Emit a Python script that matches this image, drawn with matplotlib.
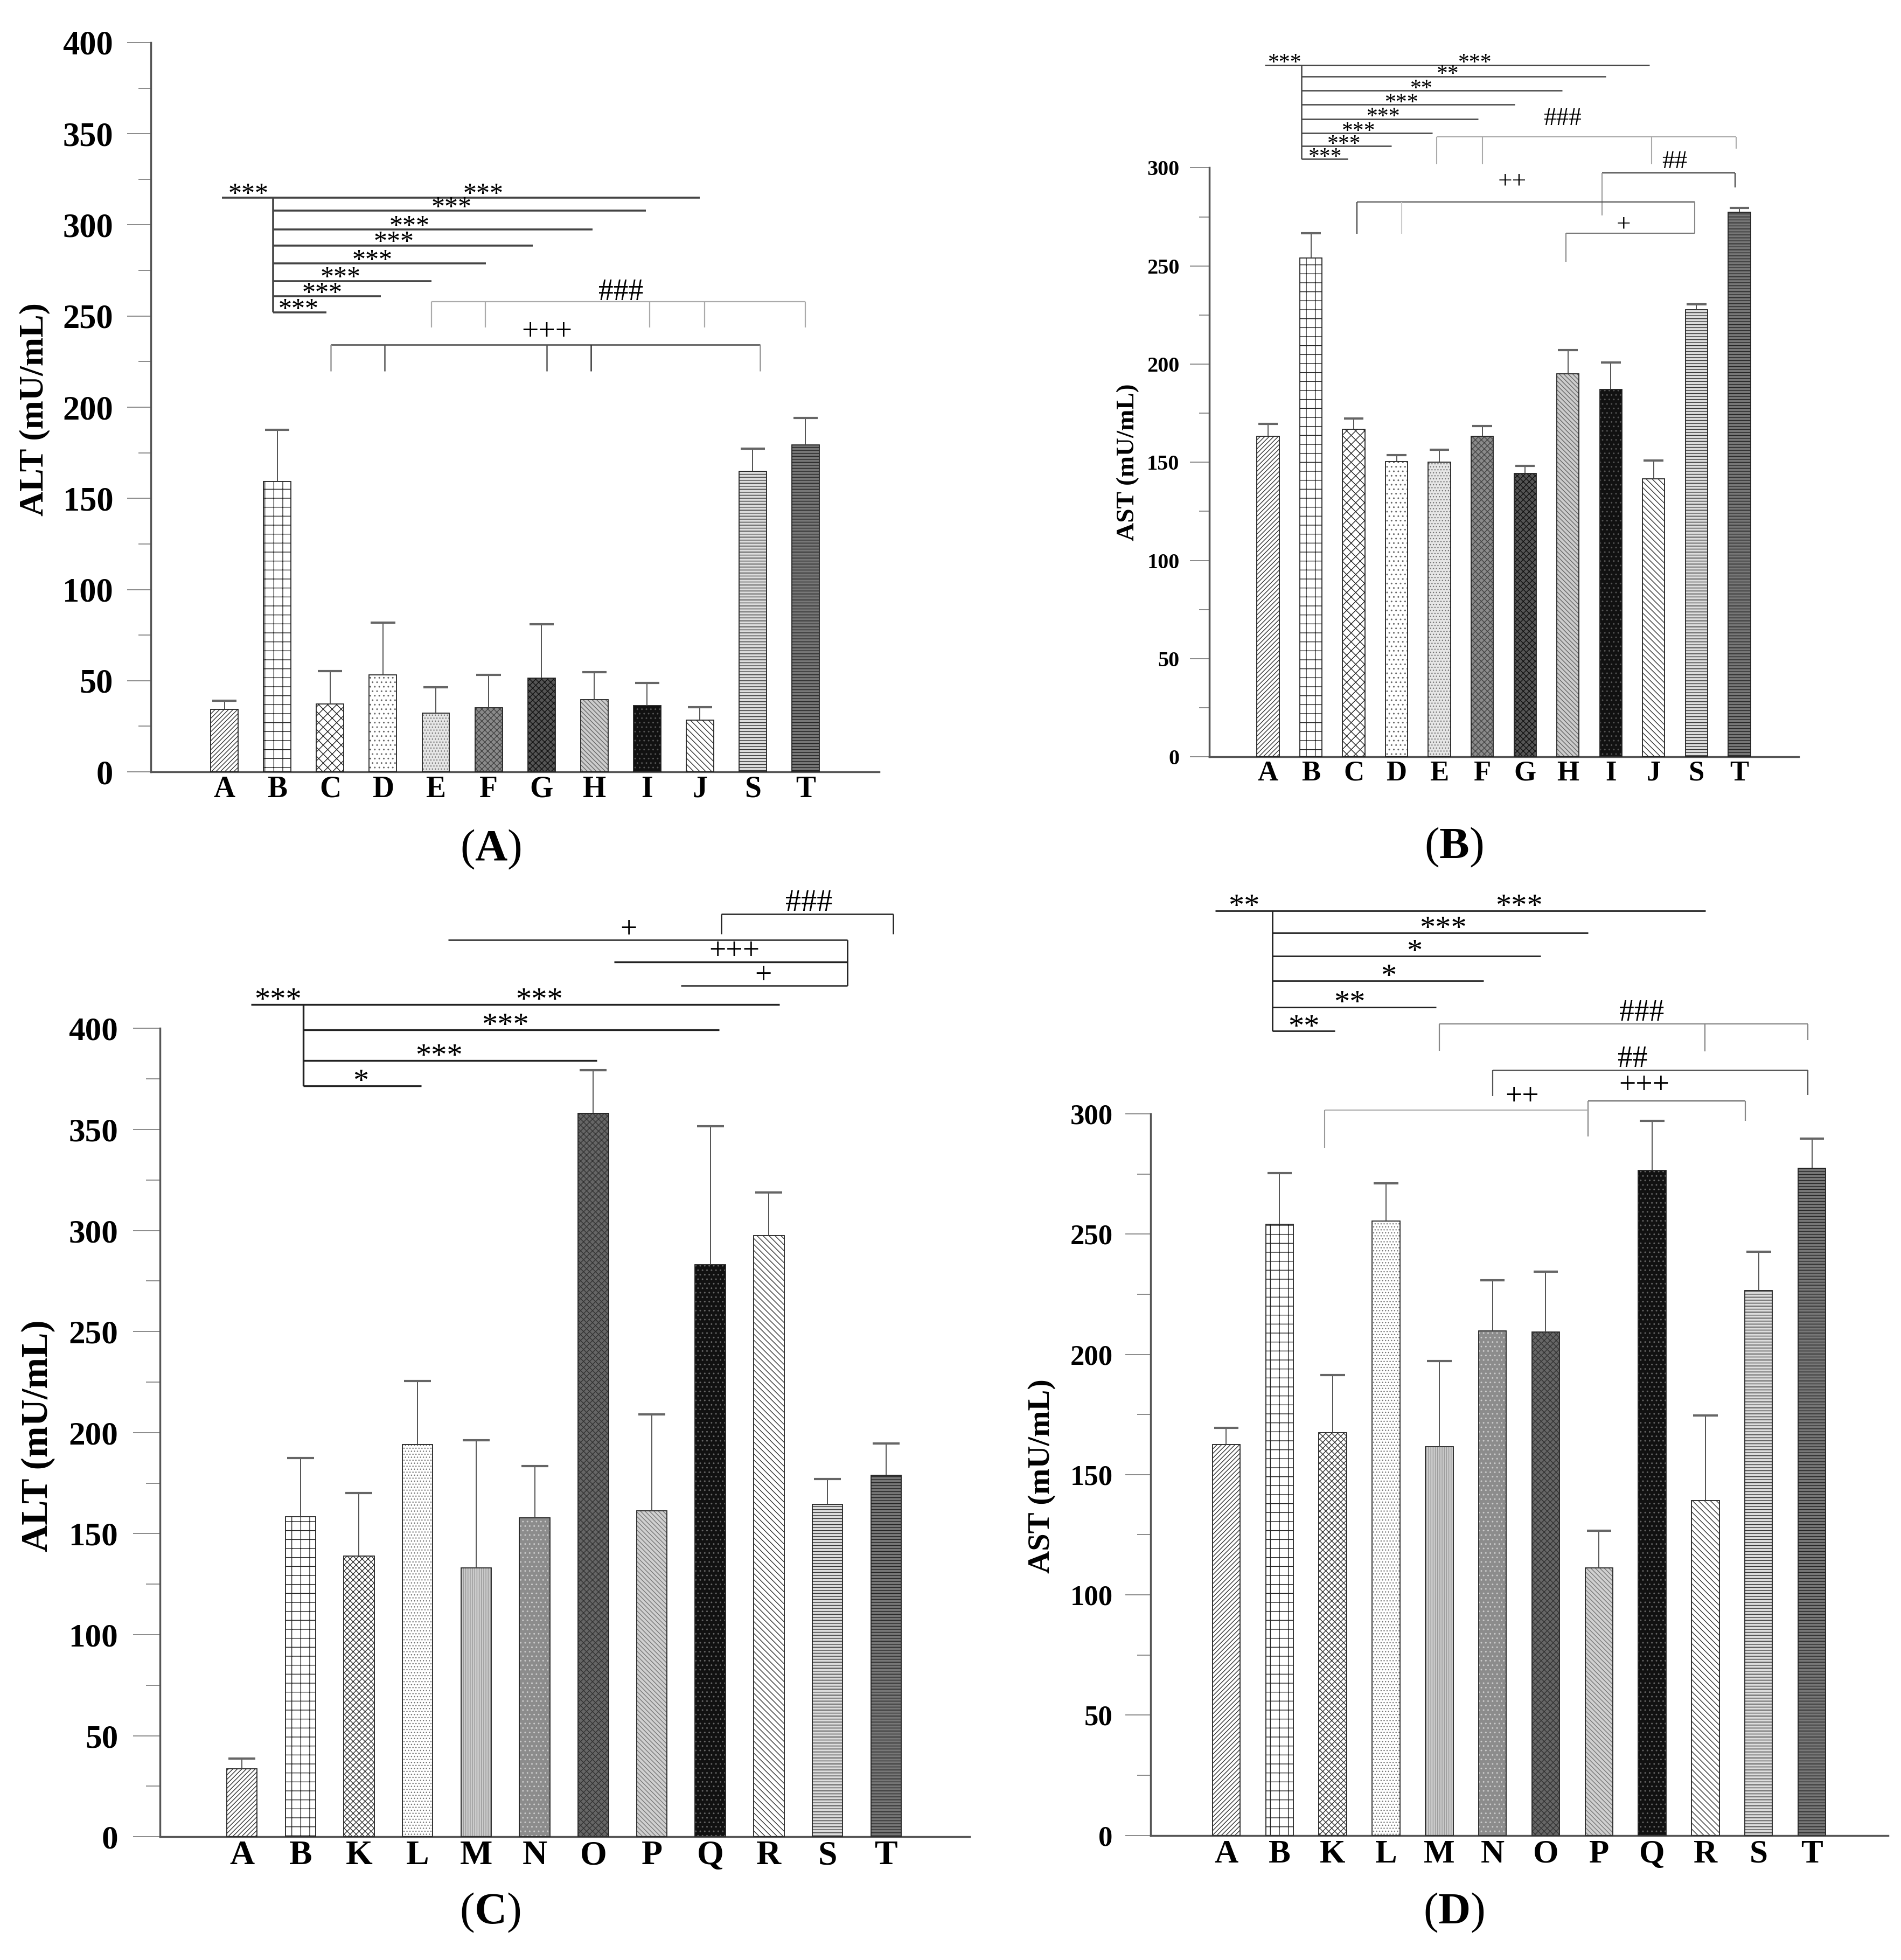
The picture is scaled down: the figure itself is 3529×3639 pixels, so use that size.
import numpy as np
import matplotlib
matplotlib.use("Agg")
import matplotlib.pyplot as plt
from matplotlib.ticker import MultipleLocator

plt.rcParams['font.family'] = ['Liberation Serif', 'DejaVu Serif']
plt.rcParams['mathtext.fontset'] = 'custom'
plt.rcParams['mathtext.rm'] = 'Liberation Serif'
plt.rcParams['mathtext.bf'] = 'Liberation Serif:bold'
plt.rcParams['hatch.linewidth'] = 1.0

# group labels
groups_ab = ['A', 'B', 'C', 'D', 'E', 'F', 'G', 'H', 'I', 'J', 'S', 'T']
groups_cd = ['A', 'B', 'K', 'L', 'M', 'N', 'O', 'P', 'Q', 'R', 'S', 'T']

# (A) ALT, groups A-J,S,T
alt_ab = [34.2, 159.1, 37.3, 53.1, 32.3, 35.1, 51.3, 39.5, 36.4, 28.3, 164.7, 179.3]
alt_ab_err = [4.7, 28.6, 18.0, 28.6, 14.0, 18.0, 29.8, 15.2, 12.4, 7.1, 12.5, 14.9]
# (B) AST, groups A-J,S,T
ast_ab = [163.2, 254.0, 166.9, 150.4, 150.2, 163.2, 144.4, 195.2, 187.1, 141.5, 227.8, 277.5]
ast_ab_err = [6.3, 12.8, 5.5, 3.2, 6.3, 5.2, 3.7, 11.8, 13.6, 9.5, 2.6, 2.0]
# (C) ALT, groups A,B,K-T
alt_cd = [33.6, 158.4, 139.0, 194.1, 133.1, 157.7, 358.0, 161.2, 283.2, 297.4, 164.6, 178.9]
alt_cd_err = [5.2, 29.1, 31.2, 31.5, 63.1, 25.7, 21.2, 47.8, 68.3, 21.5, 12.5, 15.6]
# (D) AST, groups A,B,K-T
ast_cd = [162.5, 254.0, 167.5, 255.5, 161.7, 209.7, 209.4, 111.3, 276.4, 139.2, 226.6, 277.3]
ast_cd_err = [7.0, 21.3, 23.9, 15.7, 35.5, 21.0, 25.1, 15.4, 20.7, 35.3, 16.0, 12.5]

# fill / hatch / hatch colour per group
styles = {
    'A': ('white', '////', '#333333'),
    'B': ('white', '+', '#222222'),
    'C': ('white', 'xx', '#222222'),
    'D': ('white', '..', '#666666'),
    'E': ('#e6e6e6', '...', '#777777'),
    'F': ('#8a8a8a', 'xxx', '#444444'),
    'G': ('#555555', 'xxx', '#111111'),
    'H': ('#cccccc', '\\\\\\\\', '#666666'),
    'I': ('#111111', '..', '#555555'),
    'J': ('white', '\\\\\\', '#333333'),
    'S': ('#dddddd', '---', '#333333'),
    'T': ('#777777', '---', '#222222'),
    'K': ('white', 'xxx', '#333333'),
    'L': ('white', '...', '#777777'),
    'M': ('#cccccc', '||||', '#999999'),
    'N': ('#8c8c8c', '..', '#cccccc'),
    'O': ('#666666', 'xxx', '#333333'),
    'P': ('#d0d0d0', '\\\\\\\\', '#777777'),
    'Q': ('#111111', '..', '#666666'),
    'R': ('white', '\\\\\\', '#333333'),
}

fig = plt.figure(figsize=(35.3, 36.39), dpi=100)


def make_panel(rect, groups, vals, errs, ymax, xlim, ylabel, ylab_pos,
               tsize, xsize, ysize, tlen, pad):
    ax = fig.add_axes(rect)
    x = np.arange(len(groups))
    for i, g in enumerate(groups):
        fc, hatch, hc = styles[g]
        ax.bar(x[i], vals[i], width=0.52, color=fc, hatch=hatch, edgecolor=hc,
               linewidth=0, zorder=2)
        ax.bar(x[i], vals[i], width=0.52, fill=False, edgecolor='#222222',
               linewidth=1.3, zorder=3)
    tops = np.array(vals) + np.array(errs)
    ax.vlines(x, vals, tops, color='#444444', lw=1.3, zorder=4)
    ax.hlines(tops, x - 0.23, x + 0.23, color='#666666', lw=3, zorder=4)

    ax.set_xlim(*xlim)
    ax.set_ylim(0, ymax)
    ax.set_xticks(x)
    ax.set_xticklabels(groups, fontsize=xsize, fontweight='bold')
    ax.set_yticks(np.arange(0, ymax + 1, 50))
    ax.set_yticklabels([str(v) for v in range(0, ymax + 1, 50)],
                       fontsize=tsize, fontweight='bold')
    ax.yaxis.set_minor_locator(MultipleLocator(25))
    ax.tick_params(axis='y', which='major', length=tlen, width=1.2,
                   color='#777777', pad=pad)
    ax.tick_params(axis='y', which='minor', length=tlen * 0.52, width=1.2,
                   color='#777777')
    ax.tick_params(axis='x', length=0, pad=5)
    for s in ['top', 'right']:
        ax.spines[s].set_visible(False)
    for s in ['left', 'bottom']:
        ax.spines[s].set_color('#555555')
        ax.spines[s].set_linewidth(2.5)
    fig.text(ylab_pos[0], ylab_pos[1], ylabel, rotation=90, ha='center',
             va='center', fontsize=ysize, fontweight='bold')
    return ax


def hl(ax, x0, x1, y, c='#333333', lw=2.0):
    ax.plot([x0, x1], [y, y], color=c, lw=lw, clip_on=False,
            solid_capstyle='butt', zorder=5)


def vl(ax, x, y0, y1, c='#333333', lw=2.0):
    ax.plot([x, x], [y0, y1], color=c, lw=lw, clip_on=False,
            solid_capstyle='butt', zorder=5)


def note(ax, x, y, s, size):
    dy = -0.22 * size if '*' in s else 0
    ax.annotate(s, (x, y), xytext=(0, dy), textcoords='offset points',
                ha='center', va='center', fontsize=size, annotation_clip=False,
                zorder=6)


def star_tree(ax, y_top, x0, x_top_end, x_v, top_labels, branches, off, size,
              c='#333333', lw=2.0):
    hl(ax, x0, x_top_end, y_top, c, lw)
    vl(ax, x_v, y_top, branches[-1][1], c, lw)
    for lx, lab in top_labels:
        note(ax, lx, y_top + off, lab, size)
    for x_end, y, lab, lx in branches:
        hl(ax, x_v, x_end, y, c, lw)
        note(ax, lx, y + off, lab, size)


# ---------------- (A) ----------------
axA = make_panel([0.0792, 0.6062, 0.383, 0.3721], groups_ab, alt_ab, alt_ab_err,
                 400, (-1.40, 12.39), 'ALT (mU/mL)', (0.0184, 0.7912),
                 45, 40, 46, 32, 18)
star_tree(axA, 315, -0.05, 9.0, 0.92, [(0.45, '***'), (4.9, '***')],
          [(7.98, 307.7, '***', 4.3), (6.97, 297.4, '***', 3.5),
           (5.84, 288.7, '***', 3.2), (4.95, 278.8, '***', 2.8),
           (3.92, 269.2, '***', 2.2), (2.96, 260.8, '***', 1.85),
           (1.93, 252.0, '***', 1.4)], 4.6, 36, '#444444', 2.6)
hl(axA, 3.92, 11.0, 258, '#aaaaaa', 1.6)
for xv in [3.92, 4.94, 8.05, 9.09, 11.0]:
    vl(axA, xv, 258, 243.7, '#aaaaaa', 1.6)
note(axA, 7.5, 263, '###', 40)
hl(axA, 2.01, 10.14, 234.3, '#444444', 1.8)
for xv, cc in [(2.01, '#999999'), (3.03, '#555555'), (6.1, '#555555'),
               (6.94, '#333333'), (10.14, '#999999')]:
    vl(axA, xv, 234.3, 219.7, cc, 1.8)
note(axA, 6.1, 241, '+++', 40)

# ---------------- (B) ----------------
axB = make_panel([0.636, 0.6139, 0.310, 0.3005], groups_ab, ast_ab, ast_ab_err,
                 300, (-1.37, 12.39), 'AST (mU/mL)', (0.5931, 0.7643),
                 29, 38, 34, 26, 14)
star_tree(axB, 352.3, -0.07, 8.9, 0.78, [(0.39, '***'), (4.83, '***')],
          [(7.88, 346.5, '**', 4.2), (6.87, 339.3, '**', 3.58),
           (5.76, 332.1, '***', 3.12), (4.9, 324.9, '***', 2.7),
           (3.83, 317.6, '***', 2.12), (2.88, 311.0, '***', 1.78),
           (1.86, 304.4, '***', 1.33)], 3.3, 30, '#444444', 1.8)
hl(axB, 3.94, 10.93, 315.9, '#aaaaaa', 1.5)
for xv, yb in [(3.94, 301.8), (5.0, 301.8), (8.95, 301.8), (10.93, 309.8)]:
    vl(axB, xv, 315.9, yb, '#aaaaaa', 1.5)
note(axB, 6.87, 325, '###', 34)
hl(axB, 7.8, 10.9, 297.4, '#444444', 1.6)
vl(axB, 7.8, 297.4, 275.8, '#999999', 1.5)
vl(axB, 10.9, 297.4, 290, '#444444', 1.6)
note(axB, 9.49, 303, '##', 34)
hl(axB, 2.08, 9.96, 282.7, '#555555', 1.6)
vl(axB, 2.08, 282.7, 266.5, '#444444', 1.6)
vl(axB, 3.12, 282.7, 266.5, '#cccccc', 1.5)
vl(axB, 9.96, 282.7, 266.8, '#888888', 1.5)
note(axB, 5.7, 293, '++', 34)
hl(axB, 6.95, 9.96, 266.8, '#777777', 1.5)
vl(axB, 6.95, 266.8, 252, '#888888', 1.5)
note(axB, 8.3, 271, '+', 34)

# ---------------- (C) ----------------
axC = make_panel([0.0841, 0.0629, 0.4259, 0.4124], groups_cd, alt_cd, alt_cd_err,
                 400, (-1.40, 12.43), 'ALT (mU/mL)', (0.0202, 0.2674),
                 44, 46, 50, 36, 20)
star_tree(axC, 411.8, 0.16, 9.18, 1.05, [(0.62, '***'), (5.08, '***')],
          [(8.15, 399.3, '***', 4.5), (6.06, 384.0, '***', 3.37),
           (3.06, 371.6, '*', 2.03)], 5.0, 42, '#222222', 2.4)
hl(axC, 3.52, 10.34, 443.7, '#222222', 1.8)
hl(axC, 6.36, 10.34, 432.9, '#222222', 2.4)
hl(axC, 7.5, 10.34, 421.1, '#222222', 1.8)
vl(axC, 10.34, 443.7, 421.1, '#222222', 2.0)
note(axC, 6.6, 448.5, '+', 40)
note(axC, 8.41, 438, '+++', 40)
note(axC, 8.9, 426, '+', 40)
hl(axC, 8.19, 11.12, 456.5, '#222222', 1.8)
vl(axC, 8.19, 456.5, 446.8, '#222222', 1.8)
vl(axC, 11.12, 456.5, 446.8, '#222222', 1.8)
note(axC, 9.68, 462, '###', 42)

# ---------------- (D) ----------------
axD = make_panel([0.6052, 0.0636, 0.3877, 0.3681], groups_cd, ast_cd, ast_cd_err,
                 300, (-1.418, 12.43), 'AST (mU/mL)', (0.548, 0.2469),
                 38, 44, 42, 34, 17)
star_tree(axD, 384.5, -0.21, 9.0, 0.87, [(0.33, '**'), (5.5, '***')],
          [(6.79, 375.2, '***', 4.07), (5.9, 365.6, '*', 3.53),
           (4.83, 355.4, '*', 3.05), (3.94, 344.3, '**', 2.32),
           (2.04, 334.4, '**', 1.46)], 4.2, 42, '#222222', 2.0)
hl(axD, 4.0, 10.92, 337.3, '#888888', 1.6)
vl(axD, 4.0, 337.3, 326.2, '#888888', 1.6)
vl(axD, 8.99, 337.3, 326.0, '#888888', 1.6)
vl(axD, 10.92, 337.3, 330.6, '#888888', 1.6)
note(axD, 7.8, 342, '###', 40)
hl(axD, 5.0, 10.92, 318.1, '#555555', 1.6)
vl(axD, 5.0, 318.1, 307.3, '#555555', 1.6)
vl(axD, 10.92, 318.1, 307.9, '#555555', 1.6)
note(axD, 7.63, 322.7, '##', 40)
hl(axD, 6.79, 9.75, 305.3, '#666666', 1.6)
vl(axD, 6.79, 305.3, 290.7, '#888888', 1.6)
vl(axD, 9.75, 305.3, 297.1, '#888888', 1.6)
note(axD, 7.85, 311.7, '+++', 40)
hl(axD, 1.85, 6.79, 301.5, '#aaaaaa', 1.5)
vl(axD, 1.85, 301.5, 286, '#999999', 1.5)
note(axD, 5.56, 307, '++', 40)

# panel captions
for cx, cy, lab in [(0.258, 0.5664, 'A'), (0.7646, 0.5677, 'B'),
                    (0.2578, 0.0242, 'C'), (0.7646, 0.0242, 'D')]:
    fig.text(cx, cy, r'$(\mathbf{%s})$' % lab, ha='center', va='center',
             fontsize=60)

fig.savefig('out.png', dpi=100, facecolor='white')
